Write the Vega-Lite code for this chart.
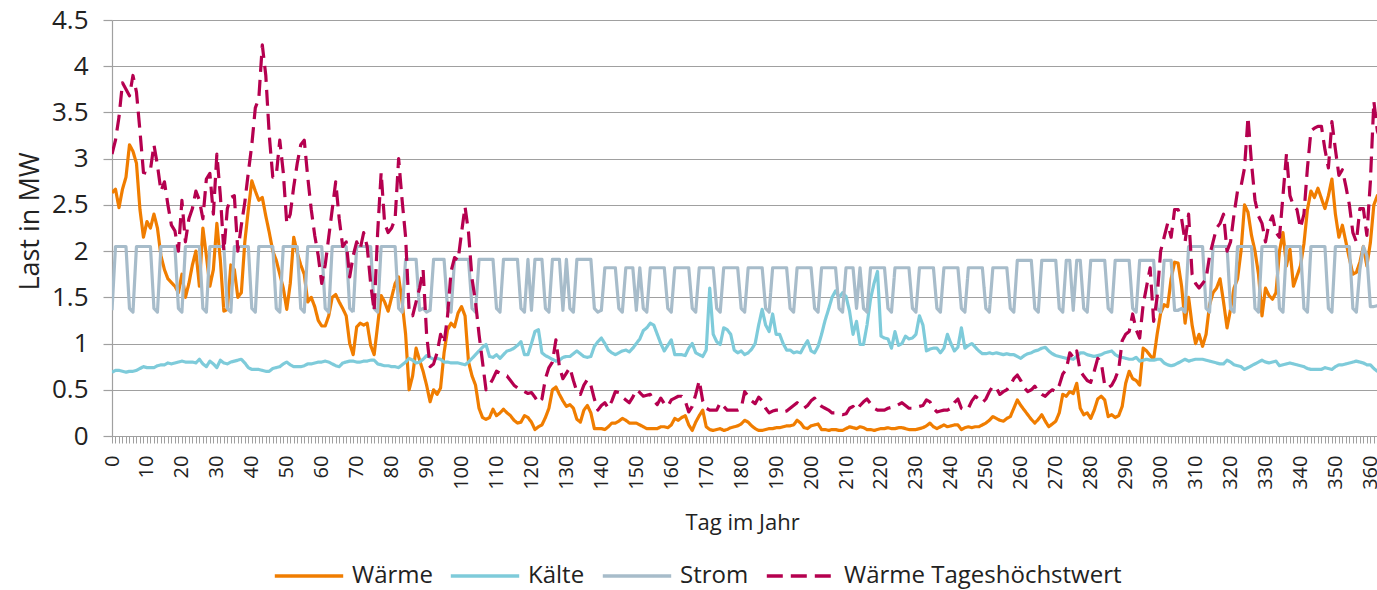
{
"$schema":"https://vega.github.io/schema/vega-lite/v6.json",
"width":1265,"height":416,
"autosize":{"type":"none"},
"padding":{"left":112,"top":20,"right":0,"bottom":154},
"background":"white",
"config":{"font":"Open Sans","view":{"stroke":null}},
"data":{"values":[
{"t":0,"w":2.63,"k":0.69,"s":1.36,"h":3.05},
{"t":1,"w":2.67,"k":0.71,"s":2.05,"h":3.2},
{"t":2,"w":2.47,"k":0.71,"s":2.05,"h":3.45},
{"t":3,"w":2.67,"k":0.70,"s":2.05,"h":3.82},
{"t":4,"w":2.8,"k":0.69,"s":2.05,"h":3.75},
{"t":5,"w":3.15,"k":0.70,"s":1.38,"h":3.68},
{"t":6,"w":3.08,"k":0.70,"s":1.34,"h":3.9},
{"t":7,"w":2.95,"k":0.71,"s":2.05,"h":3.72},
{"t":8,"w":2.45,"k":0.73,"s":2.05,"h":3.3},
{"t":9,"w":2.15,"k":0.75,"s":2.05,"h":2.85},
{"t":10,"w":2.32,"k":0.74,"s":2.05,"h":2.84},
{"t":11,"w":2.25,"k":0.74,"s":2.05,"h":2.88},
{"t":12,"w":2.4,"k":0.74,"s":1.38,"h":3.15},
{"t":13,"w":2.25,"k":0.76,"s":1.34,"h":2.93},
{"t":14,"w":1.95,"k":0.77,"s":2.05,"h":2.65},
{"t":15,"w":1.8,"k":0.77,"s":2.05,"h":2.75},
{"t":16,"w":1.7,"k":0.79,"s":2.05,"h":2.5},
{"t":17,"w":1.66,"k":0.78,"s":2.05,"h":2.28},
{"t":18,"w":1.62,"k":0.79,"s":2.05,"h":2.22},
{"t":19,"w":1.55,"k":0.80,"s":1.38,"h":2.0},
{"t":20,"w":1.75,"k":0.81,"s":1.34,"h":2.55},
{"t":21,"w":1.5,"k":0.80,"s":2.05,"h":2.1},
{"t":22,"w":1.65,"k":0.80,"s":2.05,"h":2.35},
{"t":23,"w":1.85,"k":0.80,"s":2.05,"h":2.46},
{"t":24,"w":2.0,"k":0.79,"s":2.05,"h":2.65},
{"t":25,"w":1.62,"k":0.83,"s":2.05,"h":2.55},
{"t":26,"w":2.25,"k":0.78,"s":1.38,"h":2.35},
{"t":27,"w":1.95,"k":0.75,"s":1.34,"h":2.78},
{"t":28,"w":1.62,"k":0.81,"s":2.05,"h":2.84},
{"t":29,"w":1.8,"k":0.78,"s":2.05,"h":2.4},
{"t":30,"w":2.3,"k":0.74,"s":2.05,"h":3.05},
{"t":31,"w":1.9,"k":0.82,"s":2.05,"h":2.6},
{"t":32,"w":1.35,"k":0.79,"s":2.05,"h":2.0},
{"t":33,"w":1.37,"k":0.78,"s":1.38,"h":2.46},
{"t":34,"w":1.85,"k":0.80,"s":1.34,"h":2.58},
{"t":35,"w":1.8,"k":0.81,"s":2.05,"h":2.6},
{"t":36,"w":1.5,"k":0.82,"s":2.05,"h":2.0},
{"t":37,"w":1.55,"k":0.83,"s":2.05,"h":2.28},
{"t":38,"w":2.1,"k":0.79,"s":2.05,"h":2.53},
{"t":39,"w":2.45,"k":0.74,"s":2.05,"h":2.85},
{"t":40,"w":2.76,"k":0.72,"s":1.38,"h":3.15},
{"t":41,"w":2.65,"k":0.72,"s":1.34,"h":3.55},
{"t":42,"w":2.55,"k":0.72,"s":2.05,"h":3.65},
{"t":43,"w":2.58,"k":0.71,"s":2.05,"h":4.23},
{"t":44,"w":2.38,"k":0.70,"s":2.05,"h":3.9},
{"t":45,"w":2.2,"k":0.70,"s":2.05,"h":3.25},
{"t":46,"w":2.0,"k":0.73,"s":2.05,"h":2.8},
{"t":47,"w":1.9,"k":0.74,"s":1.38,"h":2.82},
{"t":48,"w":1.75,"k":0.75,"s":1.34,"h":3.2},
{"t":49,"w":1.6,"k":0.78,"s":2.05,"h":2.85},
{"t":50,"w":1.37,"k":0.80,"s":2.05,"h":2.3},
{"t":51,"w":1.65,"k":0.77,"s":2.05,"h":2.4},
{"t":52,"w":2.15,"k":0.75,"s":2.05,"h":2.7},
{"t":53,"w":1.98,"k":0.75,"s":2.05,"h":2.95},
{"t":54,"w":1.85,"k":0.75,"s":1.38,"h":3.15},
{"t":55,"w":1.75,"k":0.76,"s":1.34,"h":3.2},
{"t":56,"w":1.45,"k":0.78,"s":2.05,"h":2.8},
{"t":57,"w":1.5,"k":0.78,"s":2.05,"h":2.45},
{"t":58,"w":1.4,"k":0.79,"s":2.05,"h":2.17},
{"t":59,"w":1.25,"k":0.80,"s":2.05,"h":1.95},
{"t":60,"w":1.19,"k":0.80,"s":2.05,"h":1.65},
{"t":61,"w":1.19,"k":0.81,"s":1.38,"h":1.85},
{"t":62,"w":1.3,"k":0.80,"s":1.34,"h":2.15},
{"t":63,"w":1.5,"k":0.78,"s":2.05,"h":2.45},
{"t":64,"w":1.53,"k":0.76,"s":2.05,"h":2.75},
{"t":65,"w":1.45,"k":0.75,"s":2.05,"h":2.35},
{"t":66,"w":1.38,"k":0.79,"s":2.05,"h":2.05},
{"t":67,"w":1.3,"k":0.80,"s":2.05,"h":2.1},
{"t":68,"w":1.0,"k":0.81,"s":1.38,"h":1.72},
{"t":69,"w":0.88,"k":0.81,"s":1.34,"h":1.95},
{"t":70,"w":1.18,"k":0.80,"s":2.05,"h":2.1},
{"t":71,"w":1.22,"k":0.80,"s":2.05,"h":2.02},
{"t":72,"w":1.2,"k":0.81,"s":2.05,"h":2.2},
{"t":73,"w":1.22,"k":0.81,"s":2.05,"h":2.05},
{"t":74,"w":0.98,"k":0.82,"s":2.05,"h":1.65},
{"t":75,"w":0.88,"k":0.82,"s":1.38,"h":1.35},
{"t":76,"w":1.2,"k":0.78,"s":1.34,"h":2.2},
{"t":77,"w":1.52,"k":0.77,"s":2.05,"h":2.85},
{"t":78,"w":1.45,"k":0.76,"s":2.05,"h":2.3},
{"t":79,"w":1.35,"k":0.76,"s":2.05,"h":2.2},
{"t":80,"w":1.5,"k":0.75,"s":2.05,"h":2.25},
{"t":81,"w":1.65,"k":0.75,"s":2.05,"h":2.35},
{"t":82,"w":1.72,"k":0.74,"s":1.38,"h":3.0},
{"t":83,"w":1.45,"k":0.77,"s":1.34,"h":2.55},
{"t":84,"w":1.1,"k":0.80,"s":1.91,"h":2.15},
{"t":85,"w":0.5,"k":0.84,"s":1.91,"h":1.35},
{"t":86,"w":0.65,"k":0.82,"s":1.91,"h":1.3},
{"t":87,"w":0.95,"k":0.79,"s":1.91,"h":1.45},
{"t":88,"w":0.82,"k":0.80,"s":1.36,"h":1.6},
{"t":89,"w":0.7,"k":0.83,"s":1.38,"h":1.8},
{"t":90,"w":0.55,"k":0.87,"s":1.34,"h":1.1},
{"t":91,"w":0.37,"k":0.85,"s":1.36,"h":0.75},
{"t":92,"w":0.5,"k":0.83,"s":1.91,"h":0.78},
{"t":93,"w":0.45,"k":0.84,"s":1.91,"h":0.9},
{"t":94,"w":0.52,"k":0.83,"s":1.91,"h":1.1},
{"t":95,"w":0.9,"k":0.80,"s":1.91,"h":1.0},
{"t":96,"w":1.15,"k":0.80,"s":1.38,"h":1.3},
{"t":97,"w":1.22,"k":0.79,"s":1.34,"h":1.78},
{"t":98,"w":1.18,"k":0.79,"s":1.91,"h":1.93},
{"t":99,"w":1.33,"k":0.79,"s":1.91,"h":1.9},
{"t":100,"w":1.4,"k":0.78,"s":1.91,"h":2.2},
{"t":101,"w":1.3,"k":0.77,"s":1.91,"h":2.48},
{"t":102,"w":0.8,"k":0.80,"s":1.91,"h":2.2},
{"t":103,"w":0.65,"k":0.84,"s":1.38,"h":1.7},
{"t":104,"w":0.55,"k":0.88,"s":1.34,"h":1.45},
{"t":105,"w":0.3,"k":0.92,"s":1.91,"h":1.1},
{"t":106,"w":0.2,"k":0.96,"s":1.91,"h":0.8},
{"t":107,"w":0.18,"k":0.99,"s":1.91,"h":0.5},
{"t":108,"w":0.2,"k":0.86,"s":1.91,"h":0.55},
{"t":109,"w":0.29,"k":0.85,"s":1.91,"h":0.62},
{"t":110,"w":0.22,"k":0.88,"s":1.38,"h":0.7},
{"t":111,"w":0.25,"k":0.84,"s":1.34,"h":0.68},
{"t":112,"w":0.29,"k":0.88,"s":1.91,"h":0.66},
{"t":113,"w":0.25,"k":0.92,"s":1.91,"h":0.65},
{"t":114,"w":0.22,"k":0.93,"s":1.91,"h":0.6},
{"t":115,"w":0.17,"k":0.95,"s":1.91,"h":0.55},
{"t":116,"w":0.14,"k":0.98,"s":1.91,"h":0.52},
{"t":117,"w":0.15,"k":1.02,"s":1.38,"h":0.5},
{"t":118,"w":0.22,"k":0.88,"s":1.34,"h":0.48},
{"t":119,"w":0.2,"k":0.88,"s":1.91,"h":0.46},
{"t":120,"w":0.15,"k":1.0,"s":1.36,"h":0.47},
{"t":121,"w":0.07,"k":1.13,"s":1.91,"h":0.42},
{"t":122,"w":0.1,"k":1.15,"s":1.91,"h":0.36},
{"t":123,"w":0.12,"k":0.9,"s":1.91,"h":0.4},
{"t":124,"w":0.2,"k":0.87,"s":1.38,"h":0.62},
{"t":125,"w":0.3,"k":0.85,"s":1.34,"h":0.74},
{"t":126,"w":0.5,"k":0.83,"s":1.91,"h":0.8},
{"t":127,"w":0.53,"k":0.81,"s":1.91,"h":1.04},
{"t":128,"w":0.45,"k":0.82,"s":1.91,"h":0.75},
{"t":129,"w":0.38,"k":0.85,"s":1.36,"h":0.62},
{"t":130,"w":0.32,"k":0.86,"s":1.91,"h":0.68},
{"t":131,"w":0.34,"k":0.86,"s":1.38,"h":0.74},
{"t":132,"w":0.3,"k":0.89,"s":1.34,"h":0.6},
{"t":133,"w":0.18,"k":0.92,"s":1.91,"h":0.48},
{"t":134,"w":0.15,"k":0.89,"s":1.91,"h":0.45},
{"t":135,"w":0.28,"k":0.86,"s":1.91,"h":0.55},
{"t":136,"w":0.33,"k":0.85,"s":1.91,"h":0.61},
{"t":137,"w":0.25,"k":0.86,"s":1.91,"h":0.55},
{"t":138,"w":0.08,"k":0.97,"s":1.38,"h":0.4},
{"t":139,"w":0.08,"k":1.02,"s":1.34,"h":0.28},
{"t":140,"w":0.08,"k":1.06,"s":1.36,"h":0.33},
{"t":141,"w":0.07,"k":1.0,"s":1.82,"h":0.36},
{"t":142,"w":0.1,"k":0.93,"s":1.82,"h":0.3},
{"t":143,"w":0.14,"k":0.9,"s":1.82,"h":0.38},
{"t":144,"w":0.14,"k":0.88,"s":1.82,"h":0.48},
{"t":145,"w":0.16,"k":0.9,"s":1.38,"h":0.47},
{"t":146,"w":0.19,"k":0.92,"s":1.34,"h":0.42},
{"t":147,"w":0.17,"k":0.93,"s":1.82,"h":0.39},
{"t":148,"w":0.14,"k":0.91,"s":1.82,"h":0.36},
{"t":149,"w":0.14,"k":0.95,"s":1.82,"h":0.42},
{"t":150,"w":0.14,"k":1.0,"s":1.36,"h":0.5},
{"t":151,"w":0.12,"k":1.05,"s":1.82,"h":0.47},
{"t":152,"w":0.1,"k":1.14,"s":1.38,"h":0.43},
{"t":153,"w":0.08,"k":1.17,"s":1.34,"h":0.44},
{"t":154,"w":0.08,"k":1.22,"s":1.82,"h":0.45},
{"t":155,"w":0.08,"k":1.2,"s":1.82,"h":0.38},
{"t":156,"w":0.08,"k":1.1,"s":1.82,"h":0.34},
{"t":157,"w":0.1,"k":1.0,"s":1.82,"h":0.41},
{"t":158,"w":0.1,"k":0.92,"s":1.82,"h":0.35},
{"t":159,"w":0.09,"k":0.98,"s":1.38,"h":0.32},
{"t":160,"w":0.12,"k":1.04,"s":1.34,"h":0.39},
{"t":161,"w":0.19,"k":0.88,"s":1.82,"h":0.41},
{"t":162,"w":0.17,"k":0.88,"s":1.82,"h":0.43},
{"t":163,"w":0.2,"k":0.88,"s":1.82,"h":0.43},
{"t":164,"w":0.22,"k":0.87,"s":1.82,"h":0.38},
{"t":165,"w":0.12,"k":0.95,"s":1.82,"h":0.26},
{"t":166,"w":0.06,"k":1.0,"s":1.38,"h":0.32},
{"t":167,"w":0.15,"k":0.9,"s":1.34,"h":0.45},
{"t":168,"w":0.22,"k":0.88,"s":1.82,"h":0.6},
{"t":169,"w":0.28,"k":0.86,"s":1.82,"h":0.38},
{"t":170,"w":0.1,"k":0.93,"s":1.82,"h":0.3},
{"t":171,"w":0.07,"k":1.6,"s":1.82,"h":0.28},
{"t":172,"w":0.06,"k":1.1,"s":1.82,"h":0.28},
{"t":173,"w":0.07,"k":1.02,"s":1.38,"h":0.28},
{"t":174,"w":0.08,"k":0.99,"s":1.34,"h":0.36},
{"t":175,"w":0.06,"k":1.17,"s":1.82,"h":0.32},
{"t":176,"w":0.07,"k":1.15,"s":1.82,"h":0.28},
{"t":177,"w":0.09,"k":1.1,"s":1.82,"h":0.28},
{"t":178,"w":0.1,"k":0.93,"s":1.82,"h":0.28},
{"t":179,"w":0.11,"k":0.9,"s":1.82,"h":0.28},
{"t":180,"w":0.13,"k":0.92,"s":1.38,"h":0.3},
{"t":181,"w":0.17,"k":0.88,"s":1.34,"h":0.48},
{"t":182,"w":0.15,"k":0.9,"s":1.82,"h":0.43},
{"t":183,"w":0.11,"k":0.94,"s":1.82,"h":0.38},
{"t":184,"w":0.08,"k":1.0,"s":1.82,"h":0.35},
{"t":185,"w":0.06,"k":1.2,"s":1.82,"h":0.42},
{"t":186,"w":0.06,"k":1.37,"s":1.82,"h":0.38},
{"t":187,"w":0.07,"k":1.2,"s":1.38,"h":0.3},
{"t":188,"w":0.08,"k":1.13,"s":1.34,"h":0.25},
{"t":189,"w":0.08,"k":1.32,"s":1.82,"h":0.27},
{"t":190,"w":0.09,"k":1.1,"s":1.82,"h":0.28},
{"t":191,"w":0.09,"k":1.1,"s":1.82,"h":0.28},
{"t":192,"w":0.1,"k":1.0,"s":1.82,"h":0.26},
{"t":193,"w":0.11,"k":0.93,"s":1.82,"h":0.27},
{"t":194,"w":0.11,"k":0.93,"s":1.38,"h":0.3},
{"t":195,"w":0.12,"k":0.9,"s":1.34,"h":0.33},
{"t":196,"w":0.17,"k":0.91,"s":1.82,"h":0.36},
{"t":197,"w":0.14,"k":0.9,"s":1.82,"h":0.32},
{"t":198,"w":0.09,"k":0.97,"s":1.82,"h":0.3},
{"t":199,"w":0.08,"k":1.03,"s":1.82,"h":0.33},
{"t":200,"w":0.11,"k":0.92,"s":1.82,"h":0.38},
{"t":201,"w":0.12,"k":0.9,"s":1.38,"h":0.41},
{"t":202,"w":0.13,"k":0.97,"s":1.34,"h":0.36},
{"t":203,"w":0.07,"k":1.1,"s":1.82,"h":0.32},
{"t":204,"w":0.07,"k":1.25,"s":1.82,"h":0.3},
{"t":205,"w":0.06,"k":1.37,"s":1.82,"h":0.28},
{"t":206,"w":0.07,"k":1.5,"s":1.82,"h":0.25},
{"t":207,"w":0.07,"k":1.57,"s":1.82,"h":0.25},
{"t":208,"w":0.06,"k":1.5,"s":1.38,"h":0.24},
{"t":209,"w":0.06,"k":1.55,"s":1.34,"h":0.23},
{"t":210,"w":0.08,"k":1.51,"s":1.82,"h":0.24},
{"t":211,"w":0.1,"k":1.35,"s":1.82,"h":0.3},
{"t":212,"w":0.09,"k":1.1,"s":1.82,"h":0.32},
{"t":213,"w":0.08,"k":1.24,"s":1.38,"h":0.28},
{"t":214,"w":0.1,"k":0.99,"s":1.82,"h":0.33},
{"t":215,"w":0.09,"k":0.99,"s":1.38,"h":0.37},
{"t":216,"w":0.07,"k":1.2,"s":1.34,"h":0.4},
{"t":217,"w":0.07,"k":1.48,"s":1.82,"h":0.35},
{"t":218,"w":0.06,"k":1.65,"s":1.82,"h":0.3},
{"t":219,"w":0.07,"k":1.78,"s":1.82,"h":0.28},
{"t":220,"w":0.08,"k":1.08,"s":1.82,"h":0.28},
{"t":221,"w":0.08,"k":1.06,"s":1.82,"h":0.28},
{"t":222,"w":0.09,"k":1.05,"s":1.38,"h":0.3},
{"t":223,"w":0.08,"k":0.95,"s":1.34,"h":0.31},
{"t":224,"w":0.08,"k":1.13,"s":1.82,"h":0.32},
{"t":225,"w":0.09,"k":0.98,"s":1.82,"h":0.34},
{"t":226,"w":0.09,"k":1.0,"s":1.82,"h":0.36},
{"t":227,"w":0.08,"k":1.08,"s":1.82,"h":0.33},
{"t":228,"w":0.07,"k":1.05,"s":1.82,"h":0.3},
{"t":229,"w":0.07,"k":1.06,"s":1.38,"h":0.3},
{"t":230,"w":0.07,"k":1.1,"s":1.34,"h":0.31},
{"t":231,"w":0.08,"k":1.3,"s":1.82,"h":0.32},
{"t":232,"w":0.09,"k":1.2,"s":1.82,"h":0.33},
{"t":233,"w":0.11,"k":0.92,"s":1.82,"h":0.39},
{"t":234,"w":0.14,"k":0.94,"s":1.82,"h":0.37},
{"t":235,"w":0.1,"k":0.95,"s":1.82,"h":0.3},
{"t":236,"w":0.08,"k":0.95,"s":1.38,"h":0.26},
{"t":237,"w":0.1,"k":0.9,"s":1.34,"h":0.27},
{"t":238,"w":0.12,"k":0.95,"s":1.82,"h":0.28},
{"t":239,"w":0.1,"k":1.1,"s":1.82,"h":0.28},
{"t":240,"w":0.11,"k":1.0,"s":1.82,"h":0.3},
{"t":241,"w":0.12,"k":0.92,"s":1.82,"h":0.36},
{"t":242,"w":0.12,"k":0.96,"s":1.82,"h":0.4},
{"t":243,"w":0.07,"k":1.17,"s":1.38,"h":0.3},
{"t":244,"w":0.09,"k":0.95,"s":1.34,"h":0.28},
{"t":245,"w":0.1,"k":0.98,"s":1.82,"h":0.3},
{"t":246,"w":0.09,"k":1.0,"s":1.82,"h":0.38},
{"t":247,"w":0.1,"k":0.96,"s":1.82,"h":0.43},
{"t":248,"w":0.1,"k":0.92,"s":1.82,"h":0.4},
{"t":249,"w":0.12,"k":0.89,"s":1.82,"h":0.36},
{"t":250,"w":0.14,"k":0.89,"s":1.38,"h":0.4},
{"t":251,"w":0.17,"k":0.9,"s":1.34,"h":0.48},
{"t":252,"w":0.21,"k":0.89,"s":1.82,"h":0.54},
{"t":253,"w":0.19,"k":0.9,"s":1.82,"h":0.52},
{"t":254,"w":0.17,"k":0.89,"s":1.82,"h":0.45},
{"t":255,"w":0.16,"k":0.88,"s":1.82,"h":0.48},
{"t":256,"w":0.19,"k":0.89,"s":1.82,"h":0.5},
{"t":257,"w":0.21,"k":0.88,"s":1.38,"h":0.55},
{"t":258,"w":0.3,"k":0.88,"s":1.34,"h":0.62},
{"t":259,"w":0.39,"k":0.86,"s":1.9,"h":0.66},
{"t":260,"w":0.33,"k":0.84,"s":1.9,"h":0.6},
{"t":261,"w":0.28,"k":0.87,"s":1.9,"h":0.52},
{"t":262,"w":0.23,"k":0.89,"s":1.9,"h":0.48},
{"t":263,"w":0.18,"k":0.9,"s":1.9,"h":0.5},
{"t":264,"w":0.14,"k":0.92,"s":1.38,"h":0.54},
{"t":265,"w":0.18,"k":0.93,"s":1.34,"h":0.48},
{"t":266,"w":0.23,"k":0.95,"s":1.9,"h":0.45},
{"t":267,"w":0.16,"k":0.96,"s":1.9,"h":0.43},
{"t":268,"w":0.1,"k":0.92,"s":1.9,"h":0.47},
{"t":269,"w":0.13,"k":0.89,"s":1.9,"h":0.5},
{"t":270,"w":0.16,"k":0.87,"s":1.9,"h":0.48},
{"t":271,"w":0.25,"k":0.86,"s":1.38,"h":0.55},
{"t":272,"w":0.45,"k":0.85,"s":1.34,"h":0.67},
{"t":273,"w":0.43,"k":0.84,"s":1.9,"h":0.72},
{"t":274,"w":0.48,"k":0.84,"s":1.9,"h":0.9},
{"t":275,"w":0.46,"k":0.83,"s":1.36,"h":0.85},
{"t":276,"w":0.57,"k":0.86,"s":1.9,"h":0.92},
{"t":277,"w":0.3,"k":0.9,"s":1.9,"h":0.7},
{"t":278,"w":0.23,"k":0.9,"s":1.38,"h":0.65},
{"t":279,"w":0.25,"k":0.88,"s":1.34,"h":0.6},
{"t":280,"w":0.19,"k":0.87,"s":1.9,"h":0.58},
{"t":281,"w":0.28,"k":0.86,"s":1.9,"h":0.7},
{"t":282,"w":0.4,"k":0.87,"s":1.9,"h":0.84},
{"t":283,"w":0.43,"k":0.88,"s":1.9,"h":0.8},
{"t":284,"w":0.39,"k":0.9,"s":1.9,"h":0.55},
{"t":285,"w":0.21,"k":0.91,"s":1.38,"h":0.52},
{"t":286,"w":0.23,"k":0.92,"s":1.34,"h":0.55},
{"t":287,"w":0.2,"k":0.88,"s":1.9,"h":0.62},
{"t":288,"w":0.22,"k":0.86,"s":1.9,"h":0.72},
{"t":289,"w":0.32,"k":0.85,"s":1.9,"h":1.03},
{"t":290,"w":0.57,"k":0.84,"s":1.9,"h":1.1},
{"t":291,"w":0.7,"k":0.83,"s":1.9,"h":1.13},
{"t":292,"w":0.62,"k":0.83,"s":1.38,"h":1.32},
{"t":293,"w":0.6,"k":0.85,"s":1.34,"h":1.15},
{"t":294,"w":0.55,"k":0.81,"s":1.9,"h":1.06},
{"t":295,"w":0.95,"k":0.82,"s":1.9,"h":1.42},
{"t":296,"w":0.92,"k":0.83,"s":1.9,"h":1.62},
{"t":297,"w":0.87,"k":0.82,"s":1.9,"h":1.82},
{"t":298,"w":0.83,"k":0.82,"s":1.9,"h":1.24},
{"t":299,"w":1.1,"k":0.83,"s":1.38,"h":1.5},
{"t":300,"w":1.33,"k":0.83,"s":1.34,"h":2.0},
{"t":301,"w":1.42,"k":0.79,"s":1.9,"h":2.15},
{"t":302,"w":1.4,"k":0.77,"s":1.9,"h":2.3},
{"t":303,"w":1.7,"k":0.76,"s":1.9,"h":2.15},
{"t":304,"w":1.88,"k":0.77,"s":1.36,"h":2.45},
{"t":305,"w":1.87,"k":0.79,"s":1.36,"h":2.45},
{"t":306,"w":1.62,"k":0.81,"s":1.38,"h":2.35},
{"t":307,"w":1.22,"k":0.83,"s":1.34,"h":2.1},
{"t":308,"w":1.5,"k":0.81,"s":2.05,"h":2.4},
{"t":309,"w":1.2,"k":0.82,"s":2.05,"h":1.75},
{"t":310,"w":1.0,"k":0.83,"s":2.05,"h":1.65},
{"t":311,"w":1.1,"k":0.83,"s":2.05,"h":1.6},
{"t":312,"w":0.97,"k":0.83,"s":2.05,"h":1.65},
{"t":313,"w":1.1,"k":0.82,"s":1.38,"h":1.7},
{"t":314,"w":1.42,"k":0.81,"s":1.34,"h":1.95},
{"t":315,"w":1.55,"k":0.8,"s":2.05,"h":2.1},
{"t":316,"w":1.6,"k":0.79,"s":2.05,"h":2.25},
{"t":317,"w":1.7,"k":0.78,"s":2.05,"h":2.3},
{"t":318,"w":1.45,"k":0.78,"s":2.05,"h":2.4},
{"t":319,"w":1.17,"k":0.82,"s":2.05,"h":2.0},
{"t":320,"w":1.37,"k":0.8,"s":1.38,"h":2.1},
{"t":321,"w":1.6,"k":0.77,"s":1.34,"h":2.4},
{"t":322,"w":1.7,"k":0.76,"s":2.05,"h":2.65},
{"t":323,"w":2.0,"k":0.75,"s":2.05,"h":2.7},
{"t":324,"w":2.5,"k":0.72,"s":2.05,"h":2.9},
{"t":325,"w":2.42,"k":0.74,"s":2.05,"h":3.45},
{"t":326,"w":2.17,"k":0.76,"s":2.05,"h":2.95},
{"t":327,"w":2.0,"k":0.78,"s":1.38,"h":2.55},
{"t":328,"w":1.75,"k":0.8,"s":1.34,"h":2.38},
{"t":329,"w":1.3,"k":0.82,"s":2.05,"h":2.3},
{"t":330,"w":1.6,"k":0.8,"s":2.05,"h":2.1},
{"t":331,"w":1.52,"k":0.79,"s":2.05,"h":2.3},
{"t":332,"w":1.48,"k":0.8,"s":2.05,"h":2.38},
{"t":333,"w":1.55,"k":0.81,"s":2.05,"h":2.2},
{"t":334,"w":2.0,"k":0.76,"s":1.38,"h":2.15},
{"t":335,"w":2.2,"k":0.77,"s":1.34,"h":2.6},
{"t":336,"w":1.84,"k":0.78,"s":2.05,"h":3.05},
{"t":337,"w":2.02,"k":0.79,"s":2.05,"h":2.6},
{"t":338,"w":1.62,"k":0.78,"s":2.05,"h":2.49},
{"t":339,"w":1.73,"k":0.77,"s":2.05,"h":2.45},
{"t":340,"w":1.84,"k":0.76,"s":2.05,"h":2.25},
{"t":341,"w":2.08,"k":0.75,"s":1.38,"h":2.4},
{"t":342,"w":2.45,"k":0.73,"s":1.34,"h":2.9},
{"t":343,"w":2.65,"k":0.72,"s":2.05,"h":3.3},
{"t":344,"w":2.58,"k":0.72,"s":2.05,"h":3.33},
{"t":345,"w":2.68,"k":0.72,"s":2.05,"h":3.35},
{"t":346,"w":2.57,"k":0.72,"s":2.05,"h":3.35},
{"t":347,"w":2.46,"k":0.74,"s":2.05,"h":3.1},
{"t":348,"w":2.6,"k":0.73,"s":1.38,"h":2.9},
{"t":349,"w":2.78,"k":0.72,"s":1.34,"h":3.4},
{"t":350,"w":2.4,"k":0.75,"s":2.05,"h":3.1},
{"t":351,"w":2.15,"k":0.77,"s":2.05,"h":2.82},
{"t":352,"w":2.28,"k":0.77,"s":2.05,"h":2.88},
{"t":353,"w":2.1,"k":0.78,"s":2.05,"h":2.7},
{"t":354,"w":1.92,"k":0.79,"s":2.05,"h":2.5},
{"t":355,"w":1.75,"k":0.8,"s":1.38,"h":2.2},
{"t":356,"w":1.77,"k":0.81,"s":1.34,"h":2.1},
{"t":357,"w":1.88,"k":0.8,"s":1.8,"h":2.46},
{"t":358,"w":2.05,"k":0.79,"s":2.05,"h":2.46},
{"t":359,"w":1.84,"k":0.77,"s":1.95,"h":2.17},
{"t":360,"w":2.09,"k":0.77,"s":1.4,"h":2.75},
{"t":361,"w":2.5,"k":0.73,"s":1.4,"h":3.62},
{"t":362,"w":2.6,"k":0.7,"s":1.41,"h":3.3},
{"t":363,"w":2.55,"k":0.7,"s":1.42,"h":3.2},
{"t":364,"w":2.5,"k":0.7,"s":1.42,"h":3.0}
]},
"transform":[{"fold":["w","k","s","h"],"as":["serie","mw"]}],
"mark":{"type":"line","strokeWidth":3.2,"clip":true,"strokeJoin":"round"},
"encoding":{
"x":{"field":"t","type":"quantitative","scale":{"domain":[0,361.9],"nice":false,"zero":false},
"axis":{"title":"Tag im Jahr","titleFontSize":22,"titleFontWeight":"normal","titleColor":"#222222","titleBaseline":"alphabetic","titleY":93,"titleX":630,"titleAlign":"center",
"tickCount":362,"format":"d","labelExpr":"datum.value % 10 === 0 ? datum.label : ''","labelAngle":270,"labelFontSize":20,"labelColor":"#222222","labelPadding":12,"labelOverlap":false,"labelBound":false,"labelFlush":false,
"tickSize":7,"tickColor":"#a0a0a0","tickWidth":1,"domainColor":"#a0a0a0","domainWidth":1.2,"grid":false}},
"y":{"field":"mw","type":"quantitative","scale":{"domain":[0,4.5],"nice":false},
"axis":{"title":"Last in MW","titleFontSize":27,"titleFontWeight":"normal","titleColor":"#222222","titleAngle":270,"titleBaseline":"alphabetic","titleX":-74,"titleY":201,"titleAlign":"center",
"values":[0,0.5,1,1.5,2,2.5,3,3.5,4,4.5],"format":"~g","labelFontSize":26,"labelColor":"#222222","labelPadding":15,
"tickSize":9,"tickColor":"#a0a0a0","tickWidth":1.2,"domainColor":"#a0a0a0","domainWidth":1.2,"grid":true,"gridColor":"#a0a0a0","gridWidth":1.2}},
"color":{"field":"serie","type":"nominal","scale":{"domain":["w","k","s","h"],"range":["#F07D00","#7ECBDA","#A7BCCA","#B5004F"]},
"legend":{"title":null,"orient":"none","direction":"horizontal","legendX":161,"legendY":520,"symbolType":"stroke","symbolSize":4680,"symbolStrokeWidth":3.3,"labelFontSize":24,"labelColor":"#222222","labelOffset":7,"columnPadding":11,"labelLimit":400,
"labelExpr":"datum.label == 'w' ? 'Wärme' : datum.label == 'k' ? 'Kälte' : datum.label == 's' ? 'Strom' : 'Wärme Tageshöchstwert'"}},
"strokeDash":{"field":"serie","type":"nominal","scale":{"domain":["w","k","s","h"],"range":[[1,0],[1,0],[1,0],[16,8]]},
"legend":{"title":null,"orient":"none","direction":"horizontal","legendX":161,"legendY":520,"symbolType":"stroke","symbolSize":4680,"symbolStrokeWidth":3.3,"labelFontSize":24,"labelColor":"#222222","labelOffset":7,"columnPadding":11,"labelLimit":400,
"labelExpr":"datum.label == 'w' ? 'Wärme' : datum.label == 'k' ? 'Kälte' : datum.label == 's' ? 'Strom' : 'Wärme Tageshöchstwert'"}}
}
}
